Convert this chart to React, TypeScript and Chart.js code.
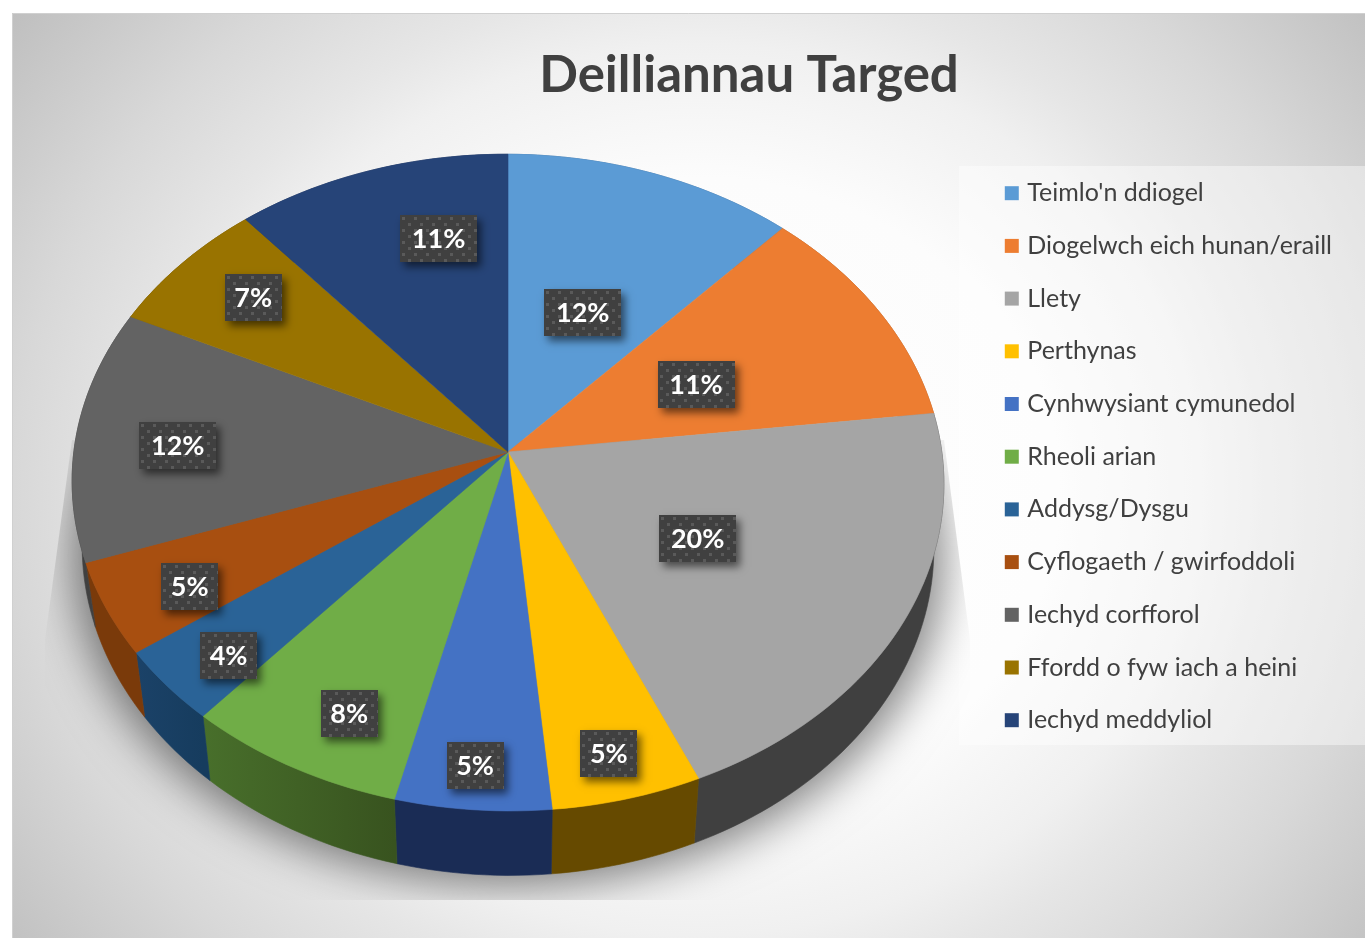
import React, { useEffect, useRef } from "react";
import { Chart, registerables } from "chart.js";

Chart.register(...registerables);

const TITLE = "Deilliannau Targed";
const categories = [
  "Teimlo'n ddiogel",
  "Diogelwch eich hunan/eraill",
  "Llety",
  "Perthynas",
  "Cynhwysiant cymunedol",
  "Rheoli arian",
  "Addysg/Dysgu",
  "Cyflogaeth / gwirfoddoli",
  "Iechyd corfforol",
  "Ffordd o fyw iach a heini",
  "Iechyd meddyliol",
];
const shares = [11.8, 11.2, 20.4, 5.1, 5.3, 7.5, 3.7, 4.55, 12.45, 6.75, 11.2];
const faceColors = ["#5b9bd5", "#ed7d31", "#a5a5a5", "#ffc000", "#4472c4", "#70ad47", "#2a6397", "#a84f10", "#636363", "#997300", "#264478"];
const wallStart = ["#3a6a96", "#a85520", "#404040", "#664a00", "#1a2c55", "#486f2b", "#1b4268", "#7a3a0a", "#404040", "#664a00", "#1a2c55"];
const wallEnd = ["#3a6a96", "#a85520", "#404040", "#664a00", "#1a2c55", "#38531f", "#163c5e", "#7a3a0a", "#404040", "#664a00", "#1a2c55"];
// Where each percentage tag sits inside its slice: fraction of the radius, and a small turn in degrees.
const tagRadius = [0.49, 0.5, 0.49, 0.87, 0.89, 0.835, 0.865, 0.825, 0.76, 0.77, 0.71];
const tagTurn = [0.24, -0.4, -0.24, 0.26, 0.26, -3.26, -2.9, -3.7, -4.08, -0.2, 6.3];

// Perspective of the tilted disc.
const CX = 508, CY = 452, RX = 434, RY = 325.5, TILT = 1.5, TAG_TILT = 15, K = 0.0931;
const WALL_H = 64.5, WALL_S = 0.977;

function top(u: number, v: number, tilt = TILT) {
  const d = 1 - K * v;
  return { x: CX + (RX * u) / d, y: CY + (tilt * u + RY * v) / d };
}
function low(u: number, v: number) {
  const p = top(u, v);
  return { x: CX + (p.x - CX) * WALL_S, y: p.y + WALL_H };
}
function rim(a0: number, a1: number, f: (u: number, v: number) => { x: number; y: number }) {
  const n = Math.max(4, Math.ceil((a1 - a0) * 40));
  const pts = [];
  for (let i = 0; i <= n; i++) {
    const a = a0 + ((a1 - a0) * i) / n;
    pts.push(f(Math.cos(a), Math.sin(a)));
  }
  return pts;
}

function makeDots(ctx: CanvasRenderingContext2D) {
  const c = document.createElement("canvas");
  c.width = 12;
  c.height = 12;
  const g = c.getContext("2d")!;
  g.fillStyle = "#404040";
  g.fillRect(0, 0, 12, 12);
  g.fillStyle = "#5a5a5a";
  g.fillRect(2, 2, 3, 3);
  g.fillRect(8, 8, 3, 3);
  return ctx.createPattern(c, "repeat")!;
}

const discPlugin = {
  id: "disc",
  beforeDraw(chart: any) {
    const { ctx, width, height } = chart;
    ctx.save();
    ctx.fillStyle = "#ffffff";
    ctx.fillRect(0, 0, width, height);
    const x0 = 12, y0 = 13, x1 = width, y1 = 938;
    ctx.beginPath();
    ctx.rect(x0, y0, x1 - x0, y1 - y0);
    ctx.clip();
    const cx = 700, cy = 490;
    ctx.translate(cx, cy);
    ctx.scale(1, 0.9);
    const grad = ctx.createRadialGradient(0, 0, 0, 0, 0, 868);
    grad.addColorStop(0, "#ffffff");
    grad.addColorStop(0.4, "#fcfcfc");
    grad.addColorStop(0.57, "#f0f0f0");
    grad.addColorStop(0.65, "#e6e6e6");
    grad.addColorStop(0.79, "#d8d8d8");
    grad.addColorStop(1, "#bfbfbf");
    ctx.fillStyle = grad;
    ctx.fillRect(-1000, -1000, 2000, 2000);
    ctx.restore();
    ctx.save();
    ctx.strokeStyle = "#d0d0d0";
    ctx.lineWidth = 1;
    ctx.beginPath();
    ctx.moveTo(12.5, 938);
    ctx.lineTo(12.5, 13.5);
    ctx.lineTo(width, 13.5);
    ctx.stroke();
    const lg = chart.legend;
    ctx.fillStyle = "rgba(255,255,255,0.42)";
    ctx.fillRect(lg.left - 22, 166, width - lg.left + 22, 579);
    ctx.restore();
  },
  beforeDatasetsDraw(chart: any) {
    const { ctx } = chart;
    const arcs = chart.getDatasetMeta(0).data;

    // soft shadow under the disc, cast from a copy drawn off the canvas
    const whole = rim(0, Math.PI * 2, low);
    const OFF = 3000;
    ctx.save();
    ctx.beginPath();
    ctx.moveTo(CX - 436, 440);
    ctx.lineTo(45, 640);
    ctx.lineTo(45, 900);
    ctx.lineTo(970, 900);
    ctx.lineTo(970, 640);
    ctx.lineTo(CX + 436, 440);
    ctx.closePath();
    ctx.clip();
    ctx.shadowColor = "rgba(0,0,0,0.5)";
    ctx.shadowBlur = 46;
    ctx.shadowOffsetX = OFF;
    ctx.shadowOffsetY = 10;
    ctx.fillStyle = "#000";
    ctx.beginPath();
    whole.forEach((p, i) => {
      const x = CX + (p.x - CX) * 1.02 - OFF;
      if (i) ctx.lineTo(x, p.y);
      else ctx.moveTo(x, p.y);
    });
    ctx.closePath();
    ctx.fill();
    ctx.restore();

    ctx.save();
    arcs.forEach((arc: any, i: number) => {
      const a0 = arc.startAngle, a1 = arc.endAngle;
      const upper = rim(a0, a1, top);
      const lower = rim(a0, a1, low).reverse();
      const g = ctx.createLinearGradient(upper[0].x, 0, upper[upper.length - 1].x, 0);
      g.addColorStop(0, wallEnd[i]);
      g.addColorStop(1, wallStart[i]);
      ctx.fillStyle = g;
      ctx.strokeStyle = g;
      ctx.lineWidth = 0.6;
      ctx.beginPath();
      [...upper, ...lower].forEach((p, k) => (k ? ctx.lineTo(p.x, p.y) : ctx.moveTo(p.x, p.y)));
      ctx.closePath();
      ctx.fill();
      ctx.stroke();
    });
    arcs.forEach((arc: any, i: number) => {
      const upper = rim(arc.startAngle, arc.endAngle, top);
      ctx.fillStyle = faceColors[i];
      ctx.strokeStyle = faceColors[i];
      ctx.lineWidth = 0.6;
      ctx.beginPath();
      ctx.moveTo(CX, CY);
      upper.forEach((p) => ctx.lineTo(p.x, p.y));
      ctx.closePath();
      ctx.fill();
      ctx.stroke();
    });

    // percentage tags
    const dots = makeDots(ctx);
    ctx.font = "700 27px Lato";
    ctx.textAlign = "center";
    ctx.textBaseline = "middle";
    arcs.forEach((arc: any, i: number) => {
      const mid = (arc.startAngle + arc.endAngle) / 2 + (tagTurn[i] * Math.PI) / 180;
      const p = top(Math.cos(mid) * tagRadius[i], Math.sin(mid) * tagRadius[i], TAG_TILT);
      const text = `${Math.round(shares[i])}%`;
      const w = Math.round(ctx.measureText(text).width * 1.3 + 8);
      const h = 47;
      const bx = Math.round(p.x - w / 2), by = Math.round(p.y - h / 2);
      ctx.save();
      ctx.shadowColor = "rgba(0,0,0,0.55)";
      ctx.shadowBlur = 8;
      ctx.shadowOffsetX = 4;
      ctx.shadowOffsetY = 5;
      ctx.fillStyle = "#404040";
      ctx.fillRect(bx, by, w, h);
      ctx.restore();
      ctx.save();
      ctx.translate(bx, by);
      ctx.fillStyle = dots;
      ctx.fillRect(0, 0, w, h);
      ctx.restore();
      ctx.fillStyle = "#ffffff";
      ctx.fillText(text, p.x, p.y + 1);
    });
    ctx.restore();
    return false;
  },
};

export default function App() {
  const ref = useRef<HTMLCanvasElement>(null);
  useEffect(() => {
    document.body.style.margin = "0";
    const chart = new Chart(ref.current!, {
      type: "pie",
      data: {
        labels: categories,
        datasets: [{ data: shares, backgroundColor: faceColors, borderWidth: 0 }],
      },
      plugins: [discPlugin],
      options: {
        responsive: false,
        animation: false,
        events: [],
        layout: { padding: { left: 156, right: 23 } },
        plugins: {
          tooltip: { enabled: false },
          title: {
            display: true,
            text: TITLE,
            color: "#404040",
            font: { family: "Lato", size: 51, weight: "bold" },
            padding: { top: 45, bottom: 46.8 },
          },
          legend: {
            display: true,
            position: "right",
            align: "start",
            fullSize: false,
            labels: {
              color: "#404040",
              font: { family: "Lato", size: 25 },
              padding: 27.7,
              boxWidth: 6,
              boxHeight: 6,
              generateLabels: () =>
                categories.map((text, i) => ({
                  text,
                  fillStyle: faceColors[i],
                  strokeStyle: faceColors[i],
                  lineWidth: 8,
                  fontColor: "#404040",
                  hidden: false,
                  index: i,
                })),
            },
          },
        },
      },
    } as any);
    return () => chart.destroy();
  }, []);
  return <canvas ref={ref} width={1365} height={940} style={{ display: "block" }} />;
}
